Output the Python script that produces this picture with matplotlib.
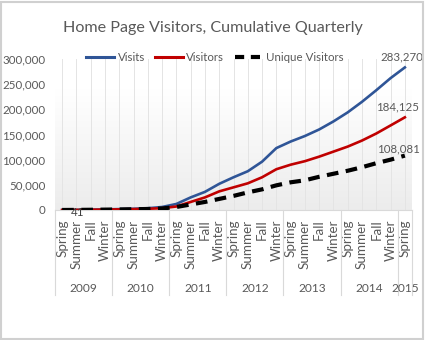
import numpy as np
import matplotlib
matplotlib.use('Agg')
import matplotlib.pyplot as plt
import matplotlib.transforms as mtransforms
from matplotlib.patches import Rectangle
from matplotlib.lines import Line2D

plt.rcParams['font.family'] = ['Lato', 'DejaVu Sans']

# quarters from Spring 2009 to Spring 2015
seasons = ['Spring', 'Summer', 'Fall', 'Winter'] * 6 + ['Spring']
years = ['2009', '2010', '2011', '2012', '2013', '2014', '2015']

visits = [41, 300, 700, 1200, 1800, 2500, 3500, 6000, 12000, 25000, 36000, 52000,
          65000, 77000, 96000, 123000, 136000, 147000, 160000, 176000, 194000,
          215000, 238000, 262000, 283270]
visitors = [41, 250, 550, 900, 1300, 1800, 2500, 3500, 7000, 16000, 25000, 37000,
            45000, 53000, 65000, 81000, 90000, 97000, 106000, 116000, 126000,
            138000, 152000, 168000, 184125]
unique = [41, 200, 450, 750, 1100, 1500, 2000, 3000, 6000, 11000, 16000, 22000,
          28000, 35000, 41000, 49000, 55000, 59000, 66000, 72000, 78000,
          85000, 93000, 100000, 108081]

gray = '#595959'
fs = 8.3
x = np.arange(len(seasons))

fig = plt.figure(figsize=(4.26, 3.40), dpi=100)
ax = fig.add_axes([55/426, 1-210/340, 357/426, 151/340])

# plot area gradient (white top -> light gray bottom)
grad = np.linspace(0, 1, 256).reshape(-1, 1)
grad = np.clip((grad - 0.2) / 0.8, 0, 1)
cmap = matplotlib.colors.LinearSegmentedColormap.from_list('g', ['#ffffff', '#ececec'])
ax.imshow(grad, extent=[0, 1, 0, 1], transform=ax.transAxes, cmap=cmap,
          aspect='auto', zorder=0, origin='upper')

for xi in x:
    ax.axvline(xi, color='#e4e4e4', lw=0.7, zorder=1)

ax.plot(x, visits, color='#2F5597', lw=1.9, label='Visits', zorder=3)
ax.plot(x, visitors, color='#C00000', lw=1.9, label='Visitors', zorder=3)
ax.plot(x, unique, color='black', lw=3.0, ls=(0, (2.8, 1.8)), label='Unique Visitors',
        zorder=4, dash_capstyle='butt')

ax.set_xlim(-0.5, len(seasons) - 0.5)
ax.set_ylim(0, 300000)
ax.set_yticks(np.arange(0, 300001, 50000))
ax.set_yticklabels(['{:,}'.format(v) for v in range(0, 300001, 50000)])
ax.set_xticks(x)
ax.set_xticklabels(seasons, rotation=90, va='top', ha='center')
ax.tick_params(axis='both', length=0, colors=gray, labelsize=fs)
ax.tick_params(axis='x', pad=7, labelsize=9.6)
ax.tick_params(axis='y', pad=7)
for s in ['left', 'right', 'top']:
    ax.spines[s].set_visible(False)
ax.spines['bottom'].set_color('#d9d9d9')

# year groups under the season labels
trans = mtransforms.blended_transform_factory(ax.transData, ax.transAxes)
bounds = [-0.5 + 4 * k for k in range(7)] + [len(seasons) - 0.5]
for b in bounds:
    ax.plot([b, b], [0, -0.563], color='#d9d9d9', lw=0.8, transform=trans, clip_on=False)
for k, yr in enumerate(years):
    cx = (bounds[k] + bounds[k + 1]) / 2
    ax.text(cx, -0.517, yr, transform=trans, ha='center', va='center',
            color=gray, fontsize=8.6)

# data labels
ax.annotate('283,270', (x[-1], visits[-1]), xytext=(-2, 7.2), textcoords='offset points',
            ha='center', va='center', color=gray, fontsize=fs)
ax.annotate('184,125', (x[-1], visitors[-1]), xytext=(-5, 7.2), textcoords='offset points',
            ha='center', va='center', color=gray, fontsize=fs)
ax.annotate('108,081', (x[-1], unique[-1]), xytext=(-4.3, 5), textcoords='offset points',
            ha='center', va='center', color=gray, fontsize=fs)
ax.annotate('41', (x[0], visits[0]), xytext=(11, -1.5), textcoords='offset points',
            ha='center', va='center', color='#404040', fontsize=fs)

handles = [Line2D([], [], color='#2F5597', lw=2.2),
           Line2D([], [], color='#C00000', lw=2.2),
           Line2D([], [], color='black', lw=3.0, ls=(0, (2.2, 1.6)))]
ax.legend(handles, ['Visits', 'Visitors', 'Unique Visitors'], loc='center',
          bbox_to_anchor=(0.448, 1.013), ncol=3, frameon=False, fontsize=fs,
          handlelength=2.4, handletextpad=0.3, columnspacing=0.9,
          labelcolor=gray, borderaxespad=0)

fig.text(0.5, 1 - 28/340, 'Home Page Visitors, Cumulative Quarterly', ha='center',
         va='center', color=gray, fontsize=11.6)

fig.patches.append(Rectangle((0.002, 0.003), 0.992, 0.992, transform=fig.transFigure,
                             fill=False, edgecolor='#d0d0d0', lw=1.5))

fig.savefig('out.png', dpi=100)
